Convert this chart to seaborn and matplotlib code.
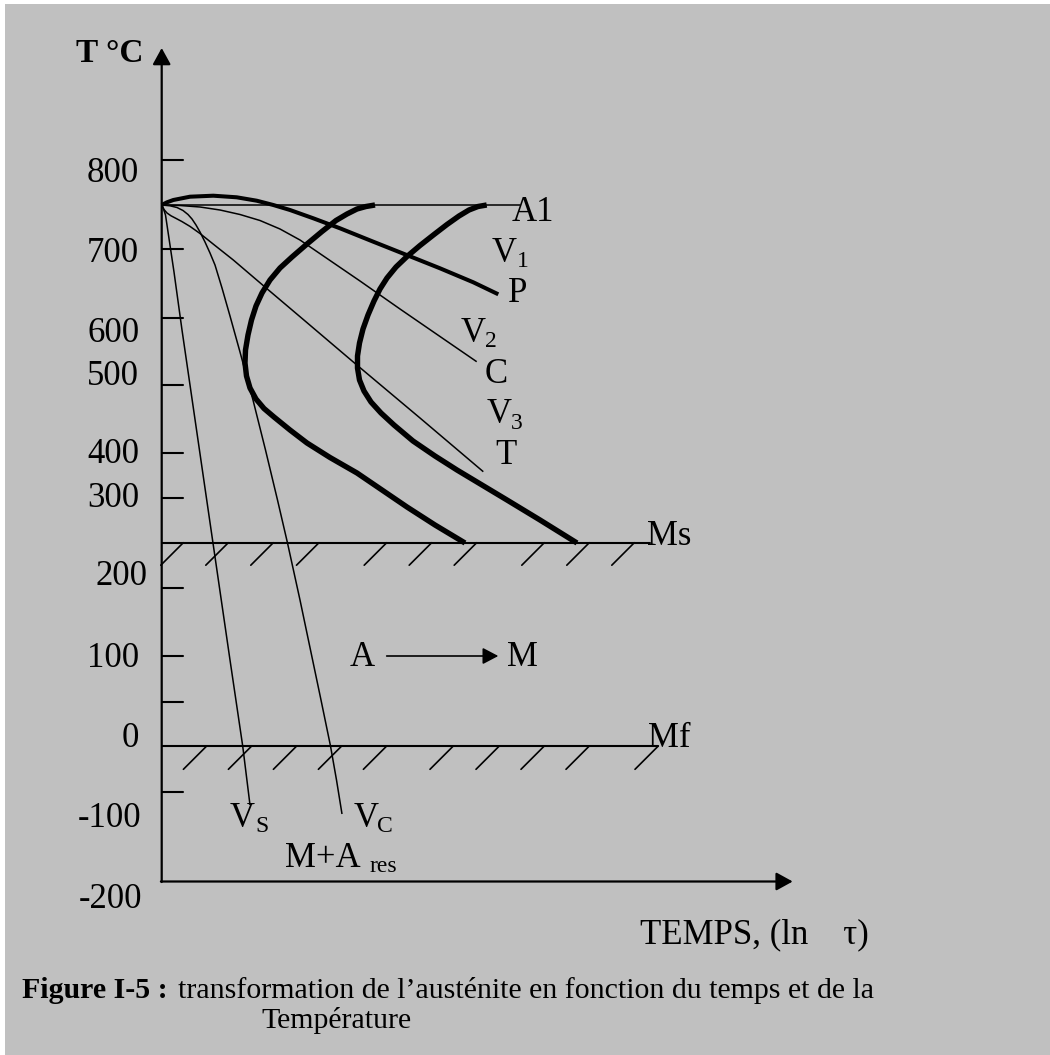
import matplotlib
matplotlib.use("Agg")
import matplotlib.pyplot as plt
import seaborn as sns
from matplotlib.patches import Rectangle

# ---------------- data (schematic sheet units: x = time, y = temperature drawn downwards) ----
# cooling curves from the austenitizing point
pearlite_x = [161.7, 167, 173.3, 190, 213.3, 236.7, 256.7, 273.3, 290, 313.3, 340, 373.3, 406.7, 440, 473.3, 498.3]
pearlite_y = [205, 202.3, 200, 196.7, 195.7, 197.3, 200.7, 205, 210, 218.3, 228.3, 241.7, 255, 268.3, 282.3, 294.3]

v2_x = [161.7, 180, 200, 220, 240, 260, 280, 300, 330, 360, 400, 440, 476.7]
v2_y = [205, 205.5, 207, 210, 214.5, 220.5, 229, 240, 260.5, 281, 309, 336.5, 361.7]

v3_x = [161.7, 164, 167, 171, 176, 182, 190, 200, 215, 233.3, 266.7, 303.3, 353.3, 420, 483.3]
v3_y = [205, 209.5, 213, 215.8, 218.4, 221.6, 226.4, 233.5, 245.5, 260, 288.5, 319.5, 362, 418, 471.7]

vc_x = [161.7, 170, 177, 183, 188, 192, 196, 200, 205, 210, 215, 222, 230, 240,
        253, 265.5, 277.5, 287.5, 300, 310.5, 321, 330.5, 336.5, 342]
vc_y = [205, 205.8, 207.5, 210.5, 214.5, 219, 225, 232, 242, 253, 265, 288, 316, 352,
        400, 450, 500, 543, 600, 650, 700, 746, 780, 814]

vs_x = [161.7, 163.5, 165.5, 174, 182, 190, 198, 206, 214, 222, 230, 242.7, 250]
vs_y = [205, 209, 215, 272, 330, 385, 440, 495, 550, 605, 660, 746, 805]

# C-curves (start and end of transformation)
start_x = [375, 366, 357, 347, 336, 322, 307, 292, 280, 270, 262, 256, 251.5, 248, 245.5, 245,
           246.5, 250, 256, 264, 274, 290, 307, 330, 357, 382, 407, 435, 465]
start_y = [205, 206.5, 209, 214, 220.5, 231.5, 244, 257, 268, 280, 293, 306, 320, 335, 350, 363,
           376, 388, 399, 408.5, 417, 430, 443, 457.5, 473, 490, 507, 525, 543]
end_x = [486.7, 478, 469, 459, 447, 434, 420, 407, 396, 387, 380, 374, 368, 363, 359.5, 357.5,
         357.5, 359.5, 364, 371, 381, 394, 413, 435, 457, 482, 507, 540, 577]
end_y = [205, 206.5, 210, 216, 224.5, 234.5, 245.5, 256.5, 267, 278, 289, 301, 315, 329, 343, 356,
         368, 380, 391, 402, 413, 425, 441, 456, 470, 485, 500, 520, 543]

# horizontal reference levels
A1_level, Ms_level, Mf_level = 205, 542.7, 746
hatch_ms_x = [183.3, 228.3, 273.3, 319, 386.7, 431.7, 476.7, 544.3, 589.3, 634.3]
hatch_mf_x = [206.7, 251.7, 296.7, 341.7, 386.7, 453.3, 499.3, 544.3, 589.3, 658.3]

# temperature axis
tick_pos = [160, 249, 318, 385, 453, 498, 588.3, 656, 701.7, 791.7]
tick_labels = ["800", "700", "600", "500", "400", "300", "200", "100", "0", "-100", "-200"]
tick_label_right = [139.3, 139.3, 139.3, 139.3, 139.3, 139.3, 147.3, 139.3, 139, 141.7, 142.7]
tick_label_base = [181.7, 261.7, 341.7, 385, 463.3, 506.7, 585, 666.7, 746.7, 826.7, 908.3]

# ---------------- figure ----------------
sns.set_theme(style="white")
plt.rcParams["font.family"] = ["Liberation Serif", "DejaVu Serif"]
plt.rcParams["text.color"] = "black"

W, H = 1050, 1055
fig = plt.figure(figsize=(W / 100, H / 100), dpi=100, facecolor="white")
ax = fig.add_axes([0, 0, 1, 1])
ax.set_xlim(0, W)
ax.set_ylim(H, 0)
ax.axis("off")
ax.add_patch(Rectangle((5, 4), W - 5, H - 4, facecolor="#c0c0c0", edgecolor="none", zorder=0))

K = "black"
line_kw = dict(color=K, sort=False, estimator=None, legend=False, ax=ax,
               solid_joinstyle="round", solid_capstyle="butt")

for xs, ys in [(v2_x, v2_y), (v3_x, v3_y), (vc_x, vc_y), (vs_x, vs_y)]:
    sns.lineplot(x=xs, y=ys, linewidth=1.1, **line_kw)
sns.lineplot(x=pearlite_x, y=pearlite_y, linewidth=2.9, **line_kw)
sns.lineplot(x=start_x, y=start_y, linewidth=3.9, **line_kw)
sns.lineplot(x=end_x, y=end_y, linewidth=3.9, **line_kw)

# reference lines
ax.plot([161.7, 520], [A1_level, A1_level], color=K, lw=1.1)
ax.plot([161.7, 650], [Ms_level, Ms_level], color=K, lw=1.5)
ax.plot([161.7, 658], [Mf_level, Mf_level], color=K, lw=1.5)
for hx in hatch_ms_x:
    ax.plot([hx, hx - 22.5], [Ms_level, Ms_level + 22.5], color=K, lw=1.2)
for hx in hatch_mf_x:
    ax.plot([hx, hx - 23.3], [Mf_level, Mf_level + 23.3], color=K, lw=1.2)

# axes with arrows
arrow = dict(arrowstyle="-|>,head_length=0.4,head_width=0.22", mutation_scale=25,
             color=K, lw=1.6, shrinkA=0, shrinkB=0)
ax.annotate("", xy=(161.7, 48), xytext=(161.7, 882), arrowprops=arrow)
ax.annotate("", xy=(792.7, 881.5), xytext=(160.9, 881.5), arrowprops=arrow)
for tp in tick_pos:
    ax.plot([161.7, 183], [tp, tp], color=K, lw=1.5)
for lab, xr, yb in zip(tick_labels, tick_label_right, tick_label_base):
    ax.text(xr, yb, lab, ha="right", va="baseline", fontsize=25)

ax.text(143.5, 61.7, "T °C", ha="right", va="baseline", fontsize=24, fontweight="bold")

# curve labels
FS, FSS = 25, 17
ax.text(511.7, 220.7, "A1", ha="left", va="baseline", fontsize=FS)
ax.text(491.7, 261.7, "V", ha="left", va="baseline", fontsize=FS)
ax.text(516.7, 266.7, "1", ha="left", va="baseline", fontsize=FSS)
ax.text(508.3, 301.7, "P", ha="left", va="baseline", fontsize=FS)
ax.text(460.7, 341.7, "V", ha="left", va="baseline", fontsize=FS)
ax.text(485, 347.3, "2", ha="left", va="baseline", fontsize=FSS)
ax.text(485, 383.3, "C", ha="left", va="baseline", fontsize=FS)
ax.text(486.7, 423.3, "V", ha="left", va="baseline", fontsize=FS)
ax.text(510.7, 429.3, "3", ha="left", va="baseline", fontsize=FSS)
ax.text(495, 464, "T", ha="left", va="baseline", fontsize=FS)
ax.text(646.7, 545, "Ms", ha="left", va="baseline", fontsize=FS)
ax.text(648.3, 746.7, "Mf", ha="left", va="baseline", fontsize=FS)

ax.text(350, 666, "A", ha="left", va="baseline", fontsize=FS)
ax.annotate("", xy=(498.3, 656), xytext=(386.7, 656),
            arrowprops=dict(arrowstyle="-|>,head_length=0.38,head_width=0.2", mutation_scale=25,
                            color=K, lw=1.2, shrinkA=0, shrinkB=0))
ax.text(506.7, 666, "M", ha="left", va="baseline", fontsize=FS)

ax.text(230, 826.7, "V", ha="left", va="baseline", fontsize=FS)
ax.text(255, 831.7, "S", ha="left", va="baseline", fontsize=FSS)
ax.text(353.3, 826.7, "V", ha="left", va="baseline", fontsize=FS)
ax.text(377.3, 831.7, "C", ha="left", va="baseline", fontsize=FSS)
ax.text(285, 866.7, "M+A", ha="left", va="baseline", fontsize=FS)
ax.text(369.3, 871.7, "res", ha="left", va="baseline", fontsize=FSS)

ax.text(639.5, 943, "TEMPS, (ln    τ)", ha="left", va="baseline", fontsize=25)

# caption
CFS = 21.5
ax.text(21.7, 998.3, "Figure I-5 :", ha="left", va="baseline", fontsize=CFS, fontweight="bold")
ax.text(178.3, 998.3, "transformation de l’austénite en fonction du temps et de la",
        ha="left", va="baseline", fontsize=CFS)
ax.text(261.7, 1028.3, "Température", ha="left", va="baseline", fontsize=CFS)

fig.savefig("out.png", dpi=100, facecolor=fig.get_facecolor())
